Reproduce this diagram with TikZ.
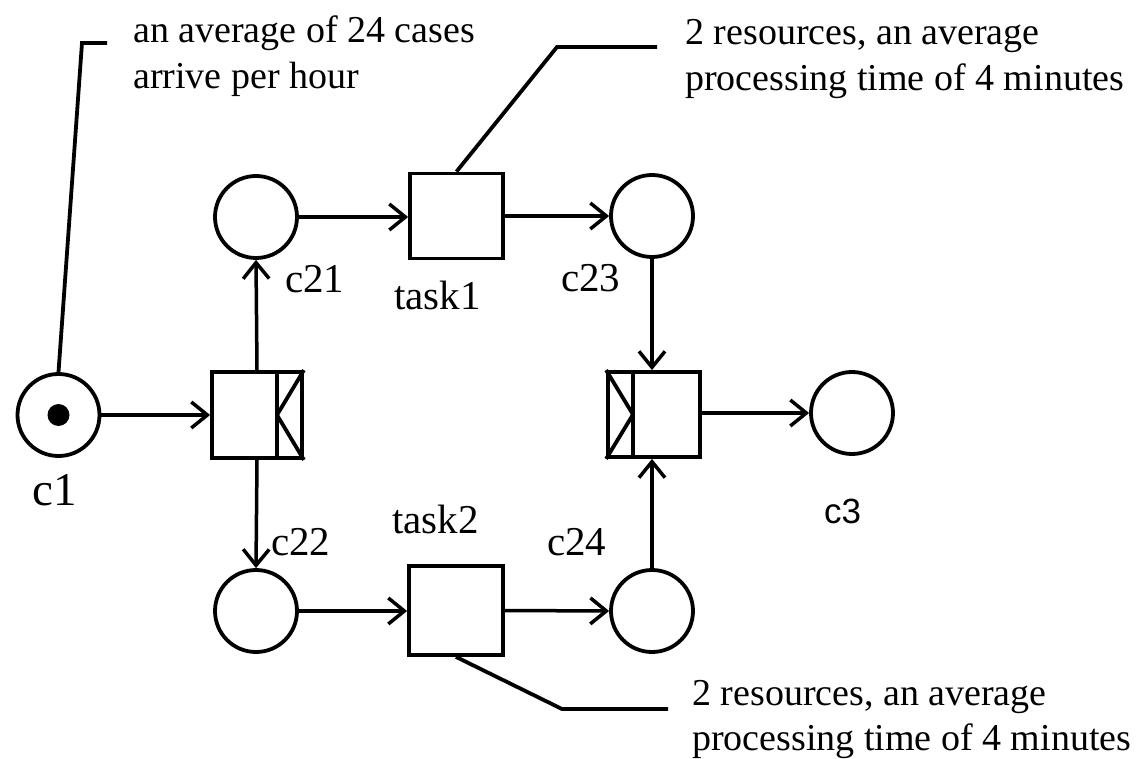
\documentclass[tikz,border=0pt]{standalone}
\usepackage{fontspec}
\setmainfont{Liberation Serif}
\newfontfamily\sansf{Liberation Sans}
\usetikzlibrary{arrows.meta}
\begin{document}
\begin{tikzpicture}[x=1pt,y=-1pt,
  place/.style={circle,draw,line width=3.8pt,minimum size=82pt,inner sep=0pt},
  trans/.style={rectangle,draw,line width=3.8pt,inner sep=0pt},
  flow/.style={line width=3.5pt,-{Straight Barb[length=16pt,width=26pt]}},
  lead/.style={line width=3.8pt},
  lbl/.style={anchor=base west,inner sep=0pt,font=\fontsize{41}{46}\selectfont},
  ann/.style={anchor=base west,inner sep=0pt,font=\fontsize{38}{46}\selectfont}]
\useasboundingbox (0,0) rectangle (1141,759);
% places
\node[place] (c1) at (58.5,415) {};
\fill (c1.center) circle (11pt);
\node[place] (c21) at (256,217) {};
\node[place] (c22) at (256,611) {};
\node[place] (c23) at (652,216) {};
\node[place] (c24) at (652,611) {};
\node[place] (c3) at (852,413) {};
% transitions
\node[trans,minimum width=93pt,minimum height=85pt] (task1) at (456.5,216) {};
\node[trans,minimum width=94pt,minimum height=89pt] (task2) at (456,610.5) {};
\node[trans,minimum width=90pt,minimum height=86pt] (split) at (257,415) {};
\node[trans,minimum width=92pt,minimum height=85pt] (join) at (654,414.5) {};
% AND-split / AND-join decorations
\coordinate (sv) at (277,415);
\coordinate (jv) at (633,414.5);
\draw[lead] (sv |- split.north) -- (sv |- split.south);
\draw[lead,line join=round] (split.north east) -- (sv) -- (split.south east);
\draw[lead] (jv |- join.north) -- (jv |- join.south);
\draw[lead,line join=round] (join.north west) -- (jv) -- (join.south west);
% arcs
\draw[flow] (c1) -- (split.west);
\draw[flow] (split.north) -- (c21.south);
\draw[flow] (split.south) -- (c22.north);
\draw[flow] (c21.east) -- (task1.west |- c21.east);
\draw[flow] (task1.east) -- (c23.west);
\draw[flow] (c22.east) -- (task2.west |- c22.east);
\draw[flow] (task2.east) -- (c24.west);
\draw[flow] (c23.south) -- (c23.south |- join.north);
\draw[flow] (c24.north) -- (c24.north |- join.south);
\draw[flow] (join.east |- c3.west) -- (c3.west);
% labels
\node[lbl] (lc21) at (285,293) {c21};
\node[lbl] (lt1) at (394,310) {task1};
\node[lbl] (lc23) at (561,292) {c23};
\node[lbl] (lc22) at (271,555) {c22};
\node[lbl] (lt2) at (392,533) {task2};
\node[lbl] (lc24) at (547,555) {c24};
\node[anchor=base west,inner sep=0pt,font=\fontsize{47}{54}\selectfont] (lc1) at (32,505) {c1};
\node[anchor=base west,inner sep=0pt,font=\sansf\fontsize{35}{40}\selectfont] (lc3) at (824,523) {c3};
% annotations
\node[ann] (a1) at (133,43) {an average of 24 cases};
\node[ann] (a2) at (133,89) {arrive per hour};
\node[ann] (b1) at (685,45) {2 resources, an average};
\node[ann] (b2) at (685,91) {processing time of 4 minutes};
\node[ann] (d1) at (692,705) {2 resources, an average};
\node[ann] (d2) at (692,750) {processing time of 4 minutes};
% leader lines
\coordinate (k1) at (82,43);
\coordinate (k1e) at (107,43);
\coordinate (k2) at (557,47);
\coordinate (k2e) at (657,47);
\coordinate (k3) at (562,709);
\coordinate (k3e) at (668,709);
\draw[lead] (c1.north) -- (k1) -- (k1e);
\draw[lead] (task1.north) -- (k2) -- (k2e);
\draw[lead] (task2.south) -- (k3) -- (k3e);
\end{tikzpicture}
\end{document}
